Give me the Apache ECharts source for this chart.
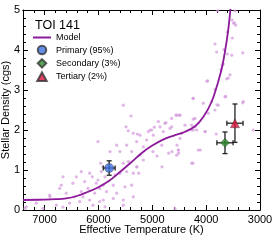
<!DOCTYPE html>
<html><head><meta charset="utf-8">
<script src="https://cdn.jsdelivr.net/npm/echarts@6/dist/echarts.min.js"></script>
<style>html,body{margin:0;padding:0;background:#fff}#c{width:274px;height:240px}</style>
</head><body><div id="c"></div>
<script>
const xMajor = [3000, 4000, 5000, 6000, 7000];
const xMinor = [3200,3400,3600,3800,4200,4400,4600,4800,5200,5400,5600,5800,6200,6400,6600,6800,7200];
const modelCurve = [[7400,0.25],[7000,0.26],[6800,0.27],[6600,0.29],[6400,0.35],[6200,0.45],[6000,0.57],[5800,0.73],[5600,0.95],[5400,1.18],[5200,1.42],[5000,1.61],[4800,1.76],[4600,1.86],[4400,1.95],[4200,2.1],[4050,2.33],[3900,2.7],[3800,3.1],[3700,3.6],[3600,4.4],[3550,5.0],[3500,5.7]];
const starTemp = [5800, 3650, 3465];
const starRho = [1.05, 1.68, 2.17];
const starTempErr = [110, 150, 150];
const starRhoErr = [0.18, 0.27, 0.48];
const starNames = ['Primary (95%)', 'Secondary (3%)', 'Tertiary (2%)'];
const bgPoints = [
[6008,1.71],[5958,1.17],[6318,0.96],[6658,0.83],[6162,0.92],[6113,0.83],[6472,0.67],[6410,0.83],[6690,0.62],[6255,0.71],[6040,0.67],[5946,0.96],[6905,0.37],[6597,0.42],[6318,0.46],[6194,0.54],[6070,0.42],[5977,0.54],[7153,0.17],[6782,0.12],[6534,0.17],[6348,0.21],[6162,0.25],[6101,0.12],[5977,0.21],[7340,0.08],[7030,0.04],[6658,0.07],[6441,0.33],[6287,0.33],[6008,0.75],[5915,0.62],[6720,0.54],[5915,1.08],[7363,0.04],[6899,0.33],
[5488,2.08],[4888,2.21],[4764,2.17],[5042,2.0],[5228,1.87],[5352,1.92],[4981,1.87],[4671,2.04],[5661,1.62],[5475,1.62],[5290,1.71],[5104,1.75],[4825,1.62],[4516,1.5],[5785,1.46],[5600,1.46],[5383,1.46],[5228,1.37],[5445,1.21],[5538,1.17],[5290,1.08],[5475,0.96],[5352,0.92],[5600,0.92],[5878,0.83],[5692,0.87],[5724,0.62],[5507,0.58],[5383,0.62],[5848,0.46],[5661,0.42],[5538,0.25],[5910,0.25],[5724,0.29],[5352,0.33],[5878,0.08],[5538,0.12],[4578,0.04],[5166,1.25],[5166,1.58],
[4238,2.79],[4052,2.67],[3897,2.71],[3650,2.83],[3774,2.62],[3836,2.5],[3960,2.42],[3310,2.71],[4547,2.37],[4485,2.37],[4207,2.29],[4268,2.12],[4238,2.0],[4175,2.0],[4021,1.96],[4454,1.92],[4485,1.79],[4145,1.5],[4516,1.5],[4547,1.37],[4268,1.17],[3124,2.0],
[3786,4.98],[3464,4.98],[3477,4.68],[3451,4.62],[3607,4.45],[3514,4.3],[3836,4.15],[3669,4.01],[3805,3.95],[3607,3.9],[3526,3.87],[3321,3.93],[3700,3.62],[3724,3.51],[3681,3.65],[3557,3.38],[3619,3.28],[3971,3.23],[3836,3.01],[3637,2.84],[3588,3.3],[3984,3.22],[4244,2.79],[3321,2.68],[3799,2.63],[3489,4.67],[3520,4.75],
[5538,2.62],[5395,2.35],[5445,1.98],[5277,1.9],[5073,1.96],[5011,2.0],[4962,2.07],[4745,2.18],[4857,2.08],[4795,1.96],[4640,2.29],[4560,2.37],[4498,2.37],[4640,2.08],[4392,2.12],[4238,2.27],[4207,2.08],[4268,2.0],
[4541,1.62],[4510,1.42],[4244,1.17],[4108,1.5],[3812,1.9],[4015,1.96],[5284,1.08],[5252,0.92],[4820,1.08],[4695,1.42],[4634,1.46],[4912,1.35],[4987,1.46]
];
const starColors = ['#3f6fe0', '#2e8b2e', '#dc143c'];
const starSymbols = ['circle', 'diamond', 'triangle'];
const legendIcons = ['circle', 'path://M5,0L10,5L5,10L0,5Z', 'path://M5,0L10,9L0,9Z'];

const chart = echarts.init(document.getElementById('c'));
const FONT = 'Liberation Sans';
function xAx(pos, vals, len, labels) {
  return {type:'value', position:pos, inverse:true, min:3000, max:7400,
    axisLine:{show:true, lineStyle:{color:'#000', width:1}},
    axisTick:{show:true, inside:true, length:len, customValues:vals, lineStyle:{color:'#000'}},
    axisLabel: labels ? {show:true, customValues:xMajor, formatter:v=>String(v), color:'#000', fontFamily:FONT, fontSize:11, margin:4} : {show:false},
    splitLine:{show:false},
    name: labels ? 'Effective Temperature (K)' : '', nameLocation:'middle', nameGap:14, nameMoveOverlap:false,
    nameTextStyle:{color:'#000', fontFamily:FONT, fontSize:11}};
}
function yAx(pos, labels) {
  return {type:'value', position:pos, min:0, max:5, interval:1,
    axisLine:{show:true, lineStyle:{color:'#000', width:1}},
    axisTick:{show:true, inside:true, length:5, lineStyle:{color:'#000'}},
    minorTick:{show:true, splitNumber:5, length:3, lineStyle:{color:'#000'}},
    axisLabel: labels ? {show:true, color:'#000', fontFamily:FONT, fontSize:11, margin:3} : {show:false},
    splitLine:{show:false}, minorSplitLine:{show:false},
    name: labels ? 'Stellar Density (cgs)' : '', nameLocation:'middle', nameGap:12, nameMoveOverlap:false,
    nameTextStyle:{color:'#000', fontFamily:FONT, fontSize:11}};
}
const errData = starTemp.map((t,i)=>[t, starRho[i], starTempErr[i], starRhoErr[i]]);
chart.setOption({
  animation:false,
  title:{text:'TOI 141', left:35, top:19, padding:0, textStyle:{fontFamily:FONT, fontSize:12.5, fontWeight:'normal', color:'#000'}},
  legend:{orient:'vertical', left:33, top:33, padding:0, itemWidth:18, itemHeight:8.5, itemGap:2.8, symbolKeepAspect:true,
    textStyle:{fontFamily:FONT, fontSize:9, color:'#000'},
    data:[{name:'Model', icon:'path://M0,0H18V2H0Z'}].concat(starNames.map((n,i)=>({name:n, icon:legendIcons[i]})))},
  grid:{left:23, right:14, top:10, bottom:30, outerBoundsMode:'none', containLabel:false},
  xAxis:[xAx('bottom', xMajor, 5, true), xAx('bottom', xMinor, 3, false), xAx('top', xMajor, 5, false), xAx('top', xMinor, 3, false)],
  yAxis:[yAx('left', true), yAx('right', false)],
  series:[
    {type:'scatter', data:bgPoints, symbolSize:3.2, silent:true, itemStyle:{color:'#d49ddc', opacity:0.75}, z:1},
    {type:'line', name:'Model', data:modelCurve, smooth:0.4, showSymbol:false, symbol:'none', clip:true,
      lineStyle:{color:'#8c1a9a', width:1.8}, itemStyle:{color:'#8c1a9a'}, z:2},
    {type:'custom', data:errData, z:3, silent:true, clip:false,
      renderItem:function(params, api){
        const t=api.value(0), r=api.value(1), dt=api.value(2), dr=api.value(3);
        const c=api.coord([t,r]), l=api.coord([t+dt,r]), rr=api.coord([t-dt,r]);
        const top=api.coord([t,r+dr]), bot=api.coord([t,r-dr]);
        const st={stroke:'#222', lineWidth:1.3};
        const cap=2.5;
        return {type:'group', children:[
          {type:'line', shape:{x1:l[0],y1:c[1],x2:rr[0],y2:c[1]}, style:st},
          {type:'line', shape:{x1:c[0],y1:top[1],x2:c[0],y2:bot[1]}, style:st},
          {type:'line', shape:{x1:l[0],y1:c[1]-cap,x2:l[0],y2:c[1]+cap}, style:st},
          {type:'line', shape:{x1:rr[0],y1:c[1]-cap,x2:rr[0],y2:c[1]+cap}, style:st},
          {type:'line', shape:{x1:c[0]-cap,y1:top[1],x2:c[0]+cap,y2:top[1]}, style:st},
          {type:'line', shape:{x1:c[0]-cap,y1:bot[1],x2:c[0]+cap,y2:bot[1]}, style:st}
        ]};
      }}
  ].concat(starNames.map((n,i)=>({type:'scatter', name:n, data:[[starTemp[i], starRho[i]]], symbol:starSymbols[i],
      symbolSize: 9, itemStyle:{color:starColors[i], borderColor:'#333', borderWidth:0.5}, z:4})))
});
</script></body></html>
